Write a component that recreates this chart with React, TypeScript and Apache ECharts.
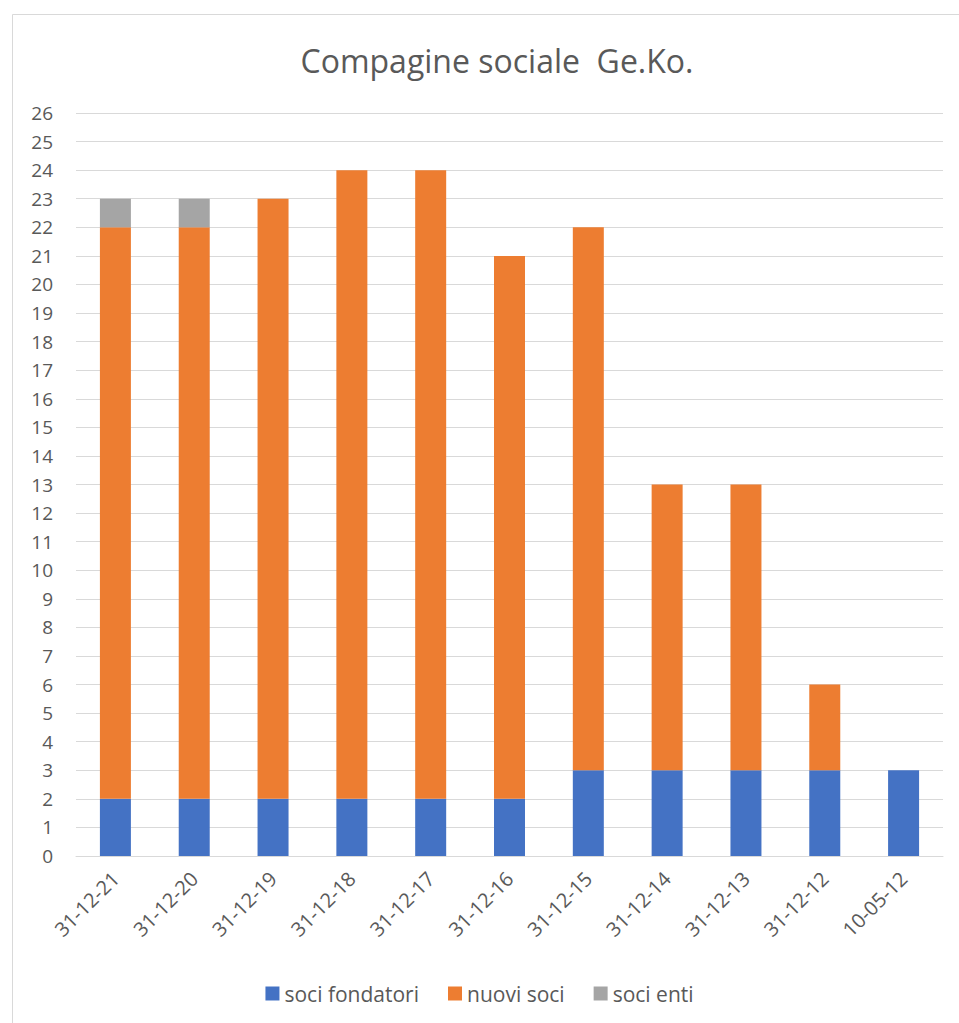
import React, { useEffect, useRef } from "react";
import * as echarts from "echarts";

const categories = ["31-12-21", "31-12-20", "31-12-19", "31-12-18", "31-12-17", "31-12-16", "31-12-15", "31-12-14", "31-12-13", "31-12-12", "10-05-12"];
const fondatori = [2, 2, 2, 2, 2, 2, 3, 3, 3, 3, 3];
const nuovi = [20, 20, 21, 22, 22, 19, 19, 10, 10, 3, 0];
const enti = [1, 1, 0, 0, 0, 0, 0, 0, 0, 0, 0];
const seriesNames = ["soci fondatori", "nuovi soci", "soci enti"];
const colors = ["#4472C4", "#ED7D31", "#A5A5A5"];

export default function App() {
  const ref = useRef<HTMLDivElement>(null);
  useEffect(() => {
    const chart = echarts.init(ref.current!, null, { renderer: "svg" });
    const font = "'Open Sans', sans-serif";
    const mk = (name: string, data: number[], color: string) => ({
      name,
      type: "bar",
      stack: "total",
      data,
      barWidth: 31,
      itemStyle: { color },
    });
    chart.setOption({
      animation: false,
      backgroundColor: "#fff",
      graphic: [
        {
          type: "rect",
          shape: { x: 12.5, y: 14.5, width: 960, height: 1020 },
          style: { fill: "none", stroke: "#D9D9D9", lineWidth: 1 },
          silent: true,
        },
      ],
      title: {
        text: "Compagine sociale  Ge.Ko.",
        left: 492,
        textAlign: "center",
        top: 39,
        textStyle: { fontFamily: font, fontSize: 32, fontWeight: "normal", color: "#595959" },
      },
      legend: {
        data: seriesNames,
        bottom: 14,
        left: "center",
        itemWidth: 14,
        itemHeight: 14,
        itemGap: 29,
        icon: "rect",
        textStyle: { fontFamily: font, fontSize: 21, color: "#595959" },
      },
      grid: { left: 76, right: 16, top: 113, bottom: 167, containLabel: false },
      xAxis: {
        type: "category",
        data: categories,
        axisLine: { lineStyle: { color: "#D9D9D9", width: 1 } },
        axisTick: { show: false },
        axisLabel: { rotate: 45, fontFamily: font, fontSize: 20, color: "#595959", margin: 19 },
      },
      yAxis: {
        type: "value",
        min: 0,
        max: 26,
        interval: 1,
        axisLine: { show: false },
        axisTick: { show: false },
        splitLine: { lineStyle: { color: "#D9D9D9", width: 1 } },
        axisLabel: { fontFamily: font, fontSize: 19, color: "#595959", margin: 23 },
      },
      series: [
        mk(seriesNames[0], fondatori, colors[0]),
        mk(seriesNames[1], nuovi, colors[1]),
        mk(seriesNames[2], enti, colors[2]),
      ],
    });
    return () => chart.dispose();
  }, []);
  return <div ref={ref} style={{ position: "fixed", left: 0, top: 0, width: 959, height: 1023 }} />;
}
